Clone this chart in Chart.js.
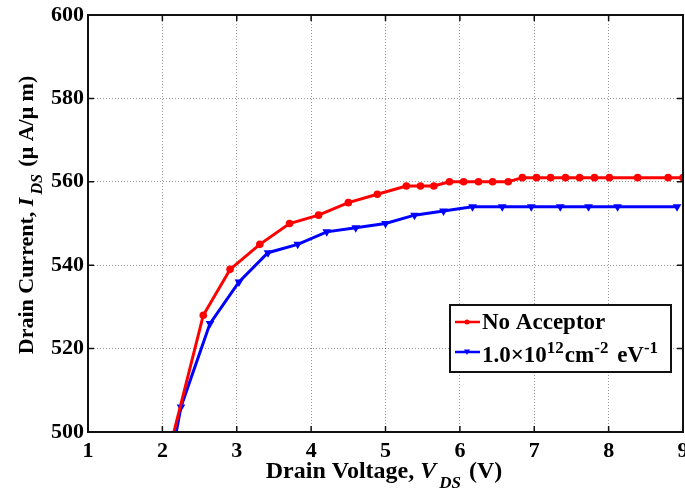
<!DOCTYPE html>
<html>
<head>
<meta charset="utf-8">
<script src="https://cdn.jsdelivr.net/npm/chart.js@4"></script>
<style>
html,body{margin:0;padding:0;background:#fff;}
#wrap{width:685px;height:492px;}
</style>
</head>
<body>
<div id="wrap"><canvas id="c" width="685" height="492"></canvas></div>
<script>
// ---- data ----
const vdsNoAcceptor = [2.0, 2.55, 2.91, 3.31, 3.71, 4.10, 4.50, 4.89, 5.28, 5.47, 5.65, 5.86, 6.05, 6.25, 6.44, 6.65, 6.84, 7.03, 7.22, 7.42, 7.61, 7.81, 8.01, 8.39, 8.80, 9.0];
const idsNoAcceptor = [489, 528, 539, 545, 550, 552, 555, 557, 559, 559, 559, 560, 560, 560, 560, 560, 561, 561, 561, 561, 561, 561, 561, 561, 561, 561];
const vdsAcceptor = [1.86, 2.25, 2.64, 3.03, 3.42, 3.82, 4.21, 4.60, 5.00, 5.39, 5.78, 6.17, 6.57, 6.96, 7.35, 7.73, 8.12, 8.92];
const idsAcceptor = [469, 506, 526, 536, 543, 545, 548, 549, 550, 552, 553, 554, 554, 554, 554, 554, 554, 554];
const xTicks = [1, 2, 3, 4, 5, 6, 7, 8, 9];
const yTicks = [500, 520, 540, 560, 580, 600];
const seriesNames = ['No Acceptor', '1.0\u00d710^12cm^-2 eV^-1'];

const FONT = '"Liberation Serif", "Times New Roman", serif';
const toPts = (xs, ys) => xs.map((x, i) => ({x: x, y: ys[i]}));

function drawRich(ctx, parts, x, y, align) {
  // parts: [text, size, style('b'|'bi'), shift, gapAfter]
  let total = 0;
  parts.forEach(p => { ctx.font = (p[2] === 'bi' ? 'italic bold ' : 'bold ') + p[1] + 'px ' + FONT; total += ctx.measureText(p[0]).width + (p[4] || 0); });
  let cx = align === 'center' ? x - total / 2 : x;
  ctx.textAlign = 'left';
  ctx.textBaseline = 'alphabetic';
  parts.forEach(p => {
    ctx.font = (p[2] === 'bi' ? 'italic bold ' : 'bold ') + p[1] + 'px ' + FONT;
    ctx.fillText(p[0], cx, y + (p[3] || 0));
    cx += ctx.measureText(p[0]).width + (p[4] || 0);
  });
}

const decor = {
  id: 'decor',
  afterDraw(chart) {
    const ctx = chart.ctx;
    const a = chart.chartArea;
    const xs = chart.scales.x, ys = chart.scales.y;
    ctx.save();
    // frame
    ctx.strokeStyle = '#111';
    ctx.lineWidth = 2;
    ctx.strokeRect(a.left, a.top, a.right - a.left, a.bottom - a.top);
    // inward ticks
    ctx.lineWidth = 1.5;
    const tl = 6;
    xTicks.forEach(v => {
      const px = xs.getPixelForValue(v);
      ctx.beginPath();
      ctx.moveTo(px, a.bottom); ctx.lineTo(px, a.bottom - tl);
      ctx.moveTo(px, a.top); ctx.lineTo(px, a.top + tl);
      ctx.stroke();
    });
    yTicks.forEach(v => {
      const py = ys.getPixelForValue(v);
      ctx.beginPath();
      ctx.moveTo(a.left, py); ctx.lineTo(a.left + tl, py);
      ctx.moveTo(a.right, py); ctx.lineTo(a.right - tl, py);
      ctx.stroke();
    });
    ctx.fillStyle = '#000';
    // x title
    drawRich(ctx, [['Drain Voltage, ', 24, 'b'], ['V', 24, 'bi', 0, 3], ['DS', 17, 'bi', 10, 2], [' (V)', 24, 'b']], 384, 478, 'center');
    // y title
    ctx.save();
    ctx.translate(33, 215);
    ctx.rotate(-Math.PI / 2);
    drawRich(ctx, [['Drain Current, ', 22, 'b'], ['I', 22, 'bi', 0, 3], ['DS', 16, 'bi', 9, 2], [' (\u03bc A/\u03bc m)', 22, 'b']], 0, 0, 'center');
    ctx.restore();
    // legend
    const bw = 221, bh = 67;
    const bx = a.right - 12 - bw, by = a.bottom - 60 - bh;
    ctx.fillStyle = '#fff';
    ctx.fillRect(bx, by, bw, bh);
    ctx.strokeStyle = '#111';
    ctx.lineWidth = 2;
    ctx.strokeRect(bx, by, bw, bh);
    const rows = [
      {color: '#ff0000', style: 'circle', y: by + 17, base: by + 24, parts: [[seriesNames[0], 23, 'b']]},
      {color: '#0000ff', style: 'triangle', y: by + 47, base: by + 57, parts: [['1.0\u00d710', 23, 'b'], ['12', 17, 'b', -9, 1], ['cm', 23, 'b'], ['-2', 17, 'b', -9, 3], [' eV', 23, 'b'], ['-1', 17, 'b', -9]]}
    ];
    rows.forEach(r => {
      ctx.strokeStyle = r.color; ctx.fillStyle = r.color; ctx.lineWidth = 2.5;
      ctx.beginPath(); ctx.moveTo(bx + 5, r.y); ctx.lineTo(bx + 30, r.y); ctx.stroke();
      const mx = bx + 17;
      ctx.beginPath();
      if (r.style === 'circle') { ctx.arc(mx, r.y, 2.5, 0, Math.PI * 2); }
      else { ctx.moveTo(mx - 3, r.y - 2.5); ctx.lineTo(mx + 3, r.y - 2.5); ctx.lineTo(mx, r.y + 3); ctx.closePath(); }
      ctx.fill();
      ctx.fillStyle = '#000';
      drawRich(ctx, r.parts, bx + 32, r.base, 'left');
    });
    ctx.restore();
  }
};

new Chart(document.getElementById('c'), {
  type: 'line',
  data: {
    datasets: [
      {
        label: seriesNames[0],
        data: toPts(vdsNoAcceptor, idsNoAcceptor),
        borderColor: '#ff0000', backgroundColor: '#ff0000',
        borderWidth: 3, pointStyle: 'circle', pointRadius: 3.8,
        pointBorderWidth: 0, tension: 0
      },
      {
        label: seriesNames[1],
        data: toPts(vdsAcceptor, idsAcceptor),
        borderColor: '#0000ff', backgroundColor: '#0000ff',
        borderWidth: 3, pointStyle: 'triangle', pointRadius: 5, pointRotation: 180,
        pointBorderWidth: 0, tension: 0
      }
    ]
  },
  options: {
    responsive: false,
    animation: false,
    devicePixelRatio: 1,
    layout: {autoPadding: false, padding: {left: 0, right: 2, top: 15, bottom: 0}},
    plugins: {legend: {display: false}, tooltip: {enabled: false}},
    scales: {
      x: {
        type: 'linear', min: 1, max: 9,
        afterBuildTicks: s => { s.ticks = xTicks.map(v => ({value: v})); },
        afterFit: s => { s.height = 60; s.paddingLeft = 0; s.paddingRight = 0; },
        grid: {color: 'rgba(0,0,0,0.4)', lineWidth: 1, drawTicks: false},
        border: {display: false, dash: [1, 2]},
        ticks: {color: '#000', padding: 6, font: {family: FONT, size: 22, weight: 'bold'}, maxRotation: 0}
      },
      y: {
        type: 'linear', min: 500, max: 600,
        afterBuildTicks: s => { s.ticks = yTicks.map(v => ({value: v})); },
        afterFit: s => { s.width = 88; s.paddingTop = 0; s.paddingBottom = 0; },
        grid: {color: 'rgba(0,0,0,0.4)', lineWidth: 1, drawTicks: false},
        border: {display: false, dash: [1, 2]},
        ticks: {color: '#000', padding: 4, font: {family: FONT, size: 22, weight: 'bold'}}
      }
    }
  },
  plugins: [decor]
});
</script>
</body>
</html>
